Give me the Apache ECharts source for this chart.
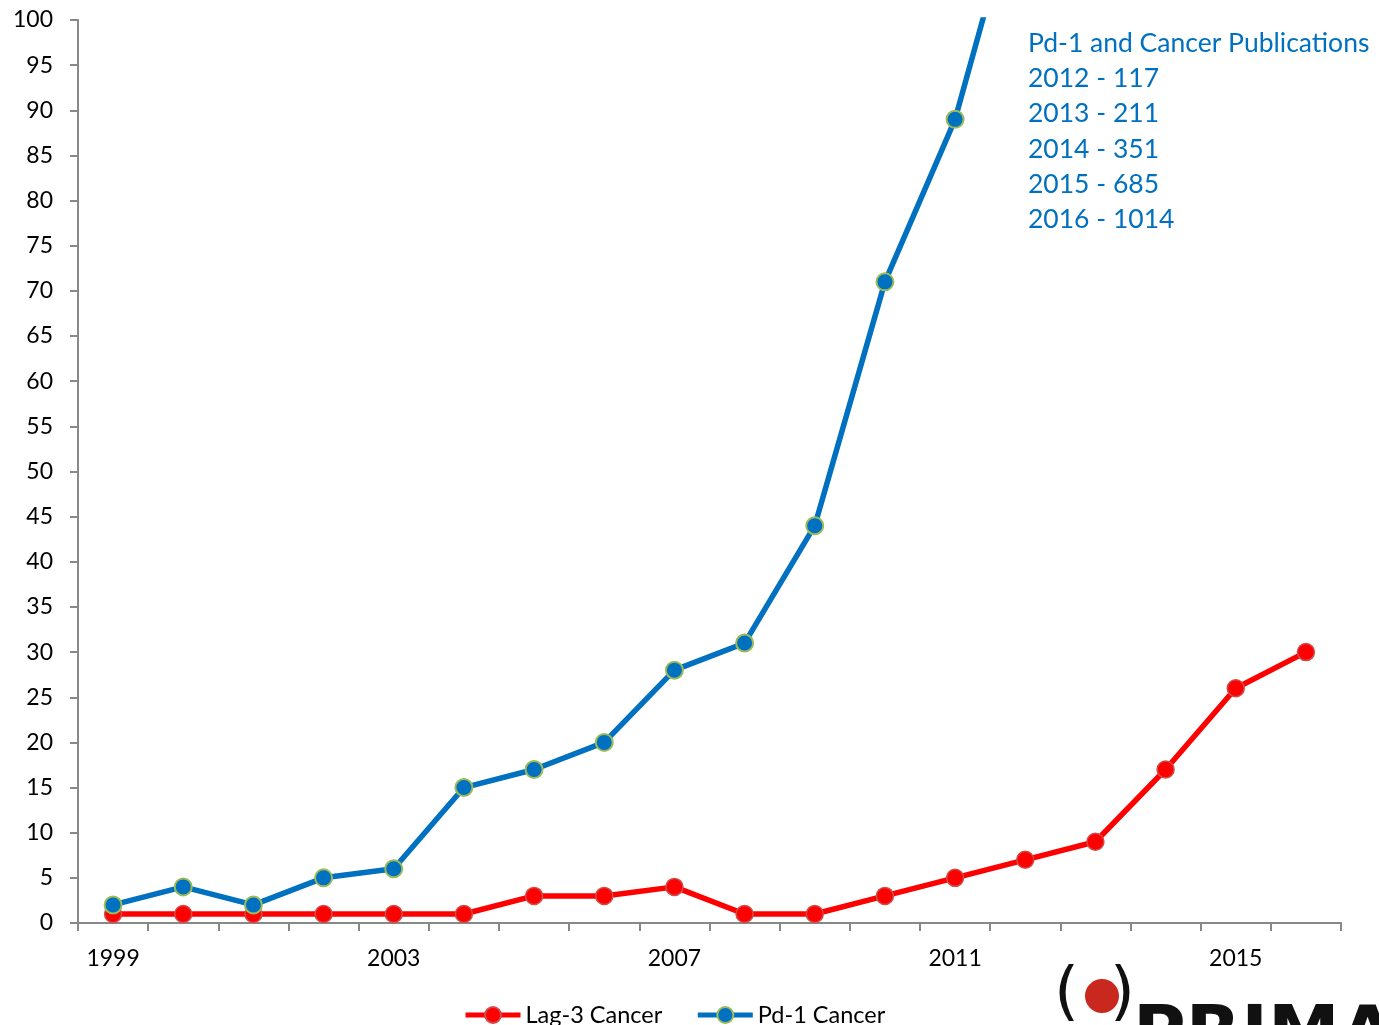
<!DOCTYPE html>
<html>
<head>
<meta charset="utf-8">
<script src="https://cdn.jsdelivr.net/npm/echarts@6/dist/echarts.min.js"></script>
<style>
  html, body { margin: 0; padding: 0; background: #fff; }
  #chart { width: 1379px; height: 1025px; }
</style>
</head>
<body>
<div id="chart"></div>
<script>
// Publication counts per year
const years = ['1999','2000','2001','2002','2003','2004','2005','2006','2007','2008',
               '2009','2010','2011','2012','2013','2014','2015','2016'];
const lag3Cancer = [1, 1, 1, 1, 1, 1, 3, 3, 4, 1, 1, 3, 5, 7, 9, 17, 26, 30];
const pd1Cancer  = [2, 4, 2, 5, 6, 15, 17, 20, 28, 31, 44, 71, 89, 117, 211, 351, 685, 1014];
const noteLines = ['Pd-1 and Cancer Publications', '2012 - 117', '2013 - 211',
                   '2014 - 351', '2015 - 685', '2016 - 1014'];

const FONT = 'Lato, "Noto Sans", sans-serif';
const chart = echarts.init(document.getElementById('chart'), null, { renderer: 'canvas' });

const noteGraphics = noteLines.map((t, i) => ({
  type: 'text',
  left: 1028,
  top: 30 + i * 35.2,
  style: { text: t, fill: '#0070C0', font: '26.5px ' + FONT }
}));

chart.setOption({
  animation: false,
  backgroundColor: '#ffffff',
  grid: { left: 78, right: 38, top: 20, bottom: 102, containLabel: false },
  xAxis: {
    type: 'category',
    data: years,
    boundaryGap: true,
    axisLine: { lineStyle: { color: '#888888', width: 2 } },
    axisTick: { show: true, interval: 0, length: 8, lineStyle: { color: '#888888', width: 2 } },
    axisLabel: { interval: 3, margin: 24, color: '#000', fontSize: 23, fontFamily: FONT }
  },
  yAxis: {
    type: 'value',
    min: 0, max: 100, interval: 5,
    splitLine: { show: false },
    axisLine: { show: true, lineStyle: { color: '#888888', width: 2 } },
    axisTick: { show: true, length: 8, lineStyle: { color: '#888888', width: 2 } },
    axisLabel: { margin: 25, color: '#000', fontSize: 23, fontFamily: FONT }
  },
  legend: {
    left: 463,
    top: 1003,
    padding: 0,
    itemWidth: 55,
    itemHeight: 20,
    itemGap: 33,
    lineStyle: { width: 5 },
    textStyle: { color: '#000', fontSize: 23.5, fontFamily: FONT },
    data: ['Lag-3 Cancer', 'Pd-1 Cancer']
  },
  series: [
    {
      name: 'Lag-3 Cancer',
      type: 'line',
      data: lag3Cancer,
      symbol: 'circle',
      symbolSize: 17,
      z: 2,
      lineStyle: { color: '#FF0000', width: 5.5 },
      itemStyle: { color: '#FF0000', borderColor: '#CC4F4C', borderWidth: 1.5 }
    },
    {
      name: 'Pd-1 Cancer',
      type: 'line',
      data: pd1Cancer,
      symbol: 'circle',
      symbolSize: 17,
      z: 3,
      clip: true,
      lineStyle: { color: '#0070C0', width: 5.5 },
      itemStyle: { color: '#0070C0', borderColor: '#9BBB59', borderWidth: 2 }
    }
  ],
  graphic: noteGraphics.concat([
    // logo in the lower right corner
    { type: 'text', left: 1054, top: 964, style: { text: '(', fill: '#111', font: '64px "DejaVu Sans", sans-serif' } },
    { type: 'text', left: 1110, top: 964, style: { text: ')', fill: '#111', font: '64px "DejaVu Sans", sans-serif' } },
    { type: 'circle', shape: { cx: 1102, cy: 996, r: 17 }, style: { fill: '#C8281E' } },
    { type: 'text', left: 1133, top: 1001, style: { text: 'PRIMA', fill: '#111', font: 'bold 72px "DejaVu Sans", sans-serif' } }
  ])
});
</script>
</body>
</html>
